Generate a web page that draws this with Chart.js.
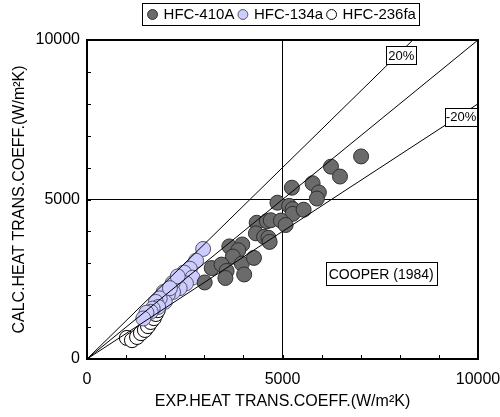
<!DOCTYPE html>
<html>
<head>
<meta charset="utf-8">
<script src="https://cdn.jsdelivr.net/npm/chart.js@4.4.0/dist/chart.umd.min.js"></script>
<style>
    html, body { margin: 0; padding: 0; background: #fff; }
    #wrap { width: 500px; height: 417px; }
</style>
</head>
<body>
<div id="wrap"><canvas id="chart"></canvas></div>
<script>
const seriesNames = ["HFC-410A", "HFC-134a", "HFC-236fa"];

// experimental (x) vs calculated (y), W/m2K
const r410aExp = [7010, 6240, 6470, 5240, 5770, 5930, 5880, 4870, 5170, 5260, 5260, 5540, 4340, 4600, 4700, 4960, 5080, 4320, 4530, 4640, 4670, 3640, 3970, 3870, 3730, 3960, 4270, 3190, 3440, 3570, 3540, 4020, 3010];
const r410aCalc = [6350, 6030, 5720, 5370, 5510, 5220, 5030, 4900, 4800, 4700, 4550, 4680, 4270, 4320, 4350, 4340, 4200, 3940, 3830, 3800, 3670, 3530, 3590, 3410, 3210, 2990, 3170, 2850, 2960, 2760, 2540, 2650, 2400];

const r134aExp = [2970, 2790, 2630, 2480, 2700, 2530, 2370, 2190, 2200, 2070, 1960, 1990, 1860, 1760, 1820, 1680, 1630, 1520, 1440, 2320, 2120];
const r134aCalc = [3450, 3080, 2830, 2710, 2550, 2370, 2220, 2380, 2100, 2030, 2100, 1790, 1900, 1790, 1630, 1580, 1480, 1450, 1270, 2590, 2220];

const r236faExp = [1020, 1150, 1280, 1380, 1480, 1560, 1630, 1710, 1760, 1810];
const r236faCalc = [660, 590, 690, 810, 910, 1030, 1160, 1280, 1410, 1530];

// reference lines: perfect agreement and +/-20 %
const lineExact = [[0, 0], [10000, 10000]];
const linePlus20 = [[0, 0], [8333, 10000]];
const lineMinus20 = [[0, 0], [10000, 8000]];

const xTicks = [0, 5000, 10000];
const yTicks = [0, 5000, 10000];

const FONT = "'Liberation Sans', Arial, sans-serif";

function toPoints(xs, ys) {
    return xs.map((x, i) => ({x: x, y: ys[i]}));
}

function refLine(pts) {
    return {
        type: "scatter",
        data: pts.map(p => ({x: p[0], y: p[1]})),
        showLine: true,
        borderColor: "#000",
        borderWidth: 1,
        pointRadius: 0,
        order: 0,
    };
}

function scatterSet(label, xs, ys, fill, edge, order) {
    return {
        label: label,
        data: toPoints(xs, ys),
        backgroundColor: fill,
        borderColor: edge,
        borderWidth: 1,
        pointRadius: 7.5,
        pointHoverRadius: 7.5,
        order: order,
    };
}

const notes = [
    {text: "20%", x: 8036, y: 9531, size: 13, pad: 2, h: 18},
    {text: "-20%", x: 9566, y: 7594, size: 13, pad: 1, h: 18},
    {text: "COOPER (1984)", x: 7526, y: 2672, size: 14, pad: 3, h: 23},
];

const framePlugin = {
    id: "frame",
    beforeInit(chart) {
        const fit = chart.legend.fit;
        chart.legend.fit = function () {
            fit.bind(chart.legend)();
            this.height += 8;
        };
    },
    afterDraw(chart) {
        const {ctx, chartArea: a, scales: {x, y}} = chart;
        ctx.save();
        // inward ticks on left and bottom
        ctx.strokeStyle = "#000";
        ctx.lineWidth = 1;
        ctx.beginPath();
        x.ticks.forEach(t => {
            const px = Math.round(x.getPixelForValue(t.value)) + 0.5;
            ctx.moveTo(px, a.bottom);
            ctx.lineTo(px, a.bottom - 4);
        });
        y.ticks.forEach(t => {
            const py = Math.round(y.getPixelForValue(t.value)) + 0.5;
            ctx.moveTo(a.left, py);
            ctx.lineTo(a.left + 4, py);
        });
        ctx.stroke();
        // frame
        ctx.lineWidth = 2;
        ctx.strokeRect(a.left, a.top, a.right - a.left, a.bottom - a.top);

        // labelled boxes
        notes.forEach(n => {
            ctx.font = n.size + "px " + FONT;
            const w = Math.round(ctx.measureText(n.text).width + n.pad * 2);
            const cx = x.getPixelForValue(n.x);
            const cy = y.getPixelForValue(n.y);
            const l = Math.round(cx - w / 2) + 0.5, t = Math.round(cy - n.h / 2) + 0.5;
            ctx.fillStyle = "#fff";
            ctx.fillRect(l, t, w, n.h);
            ctx.lineWidth = 1;
            ctx.strokeStyle = "#000";
            ctx.strokeRect(l, t, w, n.h);
            ctx.fillStyle = "#000";
            ctx.textAlign = "center";
            ctx.textBaseline = "middle";
            ctx.fillText(n.text, cx, cy + 1);
        });

        // border round the legend
        const boxes = chart.legend.legendHitBoxes;
        if (boxes && boxes.length) {
            const first = boxes[0], last = boxes[boxes.length - 1];
            const l = Math.round(first.left) - 6.5;
            const r = Math.round(last.left + last.width) + 3.5;
            ctx.lineWidth = 1;
            ctx.strokeStyle = "#000";
            ctx.strokeRect(l, 3.5, r - l, 22);
        }
        ctx.restore();
    }
};

const chart = new Chart(document.getElementById("chart"), {
    type: "scatter",
    data: {
        datasets: [
            scatterSet(seriesNames[0], r410aExp, r410aCalc, "#6b6b6b", "#2e2e2e", 1),
            scatterSet(seriesNames[1], r134aExp, r134aCalc, "#ccccff", "#555566", 2),
            scatterSet(seriesNames[2], r236faExp, r236faCalc, "#ffffff", "#000000", 3),
            refLine(lineExact),
            refLine(linePlus20),
            refLine(lineMinus20),
        ]
    },
    options: {
        responsive: true,
        maintainAspectRatio: false,
        animation: false,
        events: [],
        layout: {
            padding: {top: 2, right: 0, bottom: 0, left: 0}
        },
        scales: {
            x: {
                type: "linear",
                min: 0,
                max: 10000,
                afterFit: scale => {
                    scale.height = 58;
                    scale.paddingRight = 22;
                    scale.paddingLeft = 0;
                },
                grid: {
                    drawTicks: false,
                    color: c => c.tick && c.tick.value === 5000 ? "#000" : "rgba(0,0,0,0)",
                    lineWidth: 1,
                },
                border: {display: false},
                ticks: {
                    stepSize: 1000,
                    autoSkip: false,
                    maxRotation: 0,
                    padding: 11,
                    color: "#000",
                    font: {family: FONT, size: 16},
                    callback: v => xTicks.includes(v) ? String(v) : "",
                },
                title: {
                    display: true,
                    text: "EXP.HEAT TRANS.COEFF.(W/m²K)",
                    color: "#000",
                    font: {family: FONT, size: 16},
                    padding: {top: 0, bottom: 6},
                },
            },
            y: {
                type: "linear",
                min: 0,
                max: 10000,
                afterFit: scale => { scale.width = 87; },
                grid: {
                    drawTicks: false,
                    color: c => c.tick && c.tick.value === 5000 ? "#000" : "rgba(0,0,0,0)",
                    lineWidth: 1,
                },
                border: {display: false},
                ticks: {
                    stepSize: 1000,
                    autoSkip: false,
                    padding: 7,
                    color: "#000",
                    font: {family: FONT, size: 16},
                    callback: v => yTicks.includes(v) ? String(v) : "",
                },
                title: {
                    display: true,
                    text: "CALC.HEAT TRANS.COEFF.(W/m²K)",
                    color: "#000",
                    font: {family: FONT, size: 16},
                    padding: {top: 10, bottom: 0},
                },
            },
        },
        plugins: {
            tooltip: {enabled: false},
            legend: {
                position: "top",
                fullSize: false,
                labels: {
                    usePointStyle: true,
                    pointStyle: "circle",
                    boxWidth: 7,
                    boxHeight: 7,
                    padding: 5,
                    color: "#000",
                    font: {family: FONT, size: 15},
                    filter: item => !!item.text,
                },
            },
        },
    },
    plugins: [framePlugin],
});
</script>
</body>
</html>
